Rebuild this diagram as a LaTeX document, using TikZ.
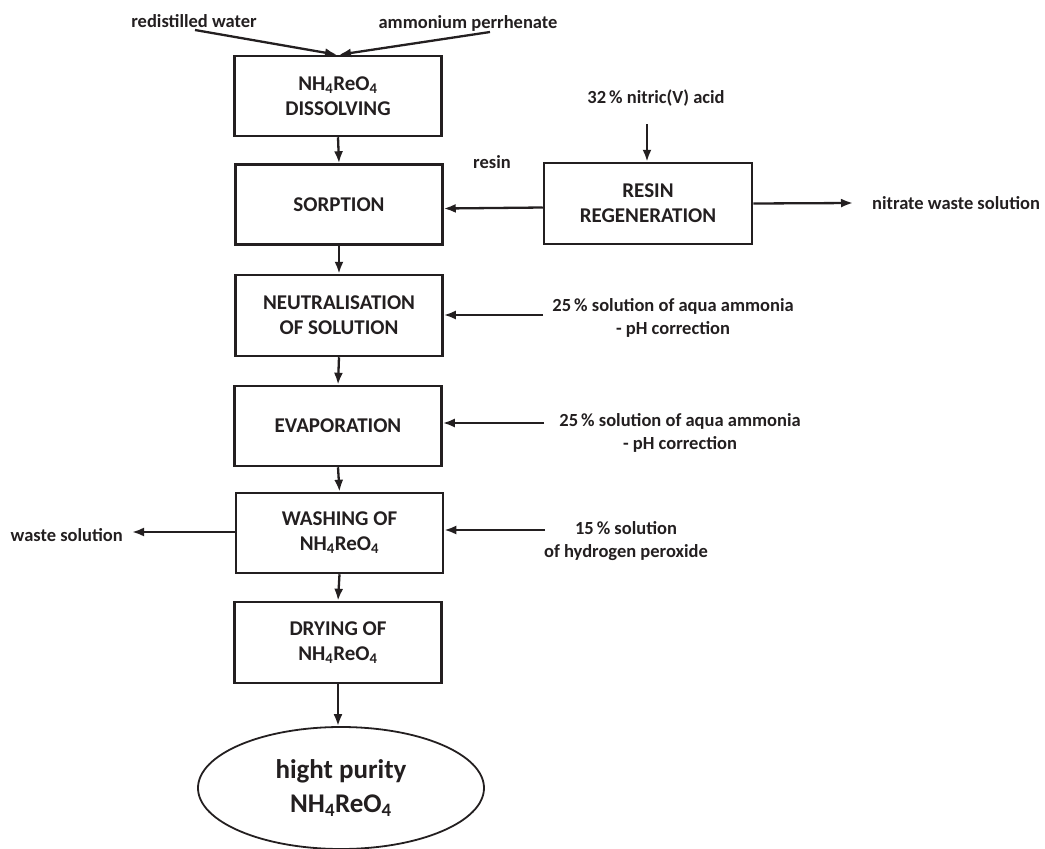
\documentclass[tikz,border=0pt]{standalone}
\usepackage{fontspec}
\setmainfont{Carlito}
\usetikzlibrary{arrows.meta,shapes.geometric}
\definecolor{ink}{HTML}{231F20}
\newcommand\bxfont{\bfseries\fontsize{21}{25}\selectfont}
\newcommand\lbfont{\bfseries\fontsize{18.5}{23}\selectfont}
\newcommand\elfont{\bfseries\fontsize{27}{34}\selectfont}
\newcommand\nhre{NH\textsubscript{4}ReO\textsubscript{4}}
\begin{document}
\begin{tikzpicture}[x=1pt,y=-1pt, color=ink,
  box/.style={draw=ink, line width=2.5pt, minimum width=207pt, minimum height=80pt, align=center, font=\bxfont, inner sep=0pt},
  lbl/.style={font=\lbfont, align=center, inner sep=0pt},
  arr/.style={draw=ink, line width=2.3pt, -{Latex[length=12pt,width=9pt]}}]
\useasboundingbox (0,0) rectangle (1045,849);
% boxes
\node[box] (dis) at (338,96) {\nhre\\DISSOLVING};
\node[box] (sorp) at (339,204.5) {SORPTION};
\node[box, minimum height=81pt] (neut) at (339,315.5) {NEUTRALISATION\\OF SOLUTION};
\node[box] (evap) at (338,426) {EVAPORATION};
\node[box] (wash) at (339.5,533) {WASHING OF\\\nhre};
\node[box, minimum height=81pt] (dry) at (338,642.5) {DRYING OF\\\nhre};
\node[box, minimum width=208pt, minimum height=81pt] (regen) at (648,203.5) {RESIN\\REGENERATION};
\node[draw=ink, ellipse, line width=1.8pt, minimum width=286pt, minimum height=122pt, inner sep=0pt, align=center, font=\elfont] (prod) at (341,788) {hight purity\\\nhre};
% labels
\node[lbl] (rw) at (194,21) {redistilled water};
\node[lbl] (ap) at (468,23) {ammonium perrhenate};
\node[lbl] (nit) at (656,98) {32\,\% nitric(V) acid};
\node[lbl] (resin) at (492,162) {resin};
\node[lbl, anchor=west] (nws) at (872,203) {nitrate waste solution};
\node[lbl] (aq1) at (673,318) {25\,\% solution of aqua ammonia\\- pH correction};
\node[lbl] (aq2) at (680,433) {25\,\% solution of aqua ammonia\\- pH correction};
\node[lbl] (hp) at (626,541) {15\,\% solution\\of hydrogen peroxide};
\node[lbl, anchor=east] (ws) at (123,535) {waste solution};
% coordinates
\coordinate (rwS) at (195,30);
\coordinate (apS) at (490,32);
\coordinate (nitS) at (647,124);
\coordinate (nwsE) at (853,203);
\coordinate (aq1S) at (543,315);
\coordinate (aq2S) at (544,423);
\coordinate (hpS) at (545,530);
\coordinate (wsE) at (132,532);
% connectors
\draw[arr] (rwS) -- ([xshift=-1pt]dis.north);
\draw[arr] (apS) -- ([xshift=1pt]dis.north);
\draw[arr] (dis.south) -- (sorp.north);
\draw[arr] (sorp.south) -- (neut.north);
\draw[arr] (neut.south) -- (evap.north);
\draw[arr] (evap.south) -- (wash.north);
\draw[arr] (wash.south) -- (dry.north);
\draw[arr] (dry.south) -- (dry.south |- prod.north);
\draw[arr] (nitS) -- (regen.north -| nitS);
\draw[arr] ([yshift=-4pt]regen.west) -- ([yshift=-4pt]sorp.east);
\draw[arr] (regen.east) -- (nwsE);
\draw[arr] (aq1S) -- (neut.east |- aq1S);
\draw[arr] (aq2S) -- (evap.east |- aq2S);
\draw[arr] (hpS) -- (wash.east |- hpS);
\draw[arr] (wash.west |- wsE) -- (wsE);
\end{tikzpicture}
\end{document}
